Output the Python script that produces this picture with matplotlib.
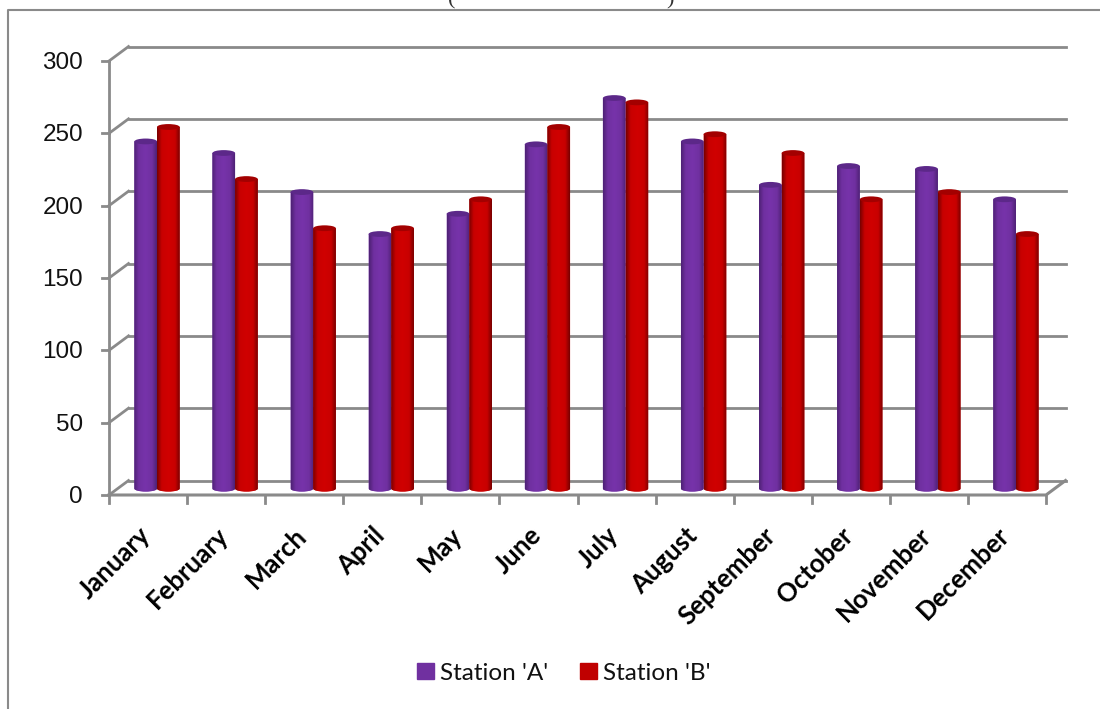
import numpy as np
import matplotlib
matplotlib.use("Agg")
import matplotlib.pyplot as plt
from matplotlib.colors import LinearSegmentedColormap
from matplotlib.patches import Ellipse, Patch, PathPatch
from matplotlib.path import Path

months = ["January", "February", "March", "April", "May", "June", "July",
          "August", "September", "October", "November", "December"]
station_a = [240, 232, 205, 176, 190, 238, 270, 240, 210, 223, 221, 200]
station_b = [250, 214, 180, 180, 200, 250, 267, 245, 232, 200, 205, 176]
y_ticks = [0, 50, 100, 150, 200, 250, 300]
series_names = ["Station 'A'", "Station 'B'"]

GRID = "#8a8a8a"
W, H = 1100, 709
plt.rcParams["font.family"] = ["Lato", "DejaVu Sans"]

fig = plt.figure(figsize=(W / 100, H / 100), dpi=100, facecolor="white")
ax = fig.add_axes([109 / W, 1 - 495 / H, (1046 - 109) / W, (495 - 61) / H])
ax.axis("off")

# Oblique depth of the chart floor, in data units
depth_x, depth_y = 0.25, 10.0
mid_x, mid_y = 0.115, 4.4
bar_w = 0.29
cap_h = 4.0

# Back wall gridlines and the side-wall connectors
for v in y_ticks:
    ax.plot([0, depth_x], [v, v + depth_y],
            color=GRID, lw=2.0, clip_on=False, zorder=1)
    ax.plot([depth_x, 12 + depth_x], [v + depth_y, v + depth_y],
            color=GRID, lw=2.0, clip_on=False, zorder=1)
    ax.plot([-0.09, 0], [v, v], color=GRID, lw=2.0, clip_on=False, zorder=1)

# Front axes, floor edge and category ticks
ax.plot([0, 0], [0, 300], color=GRID, lw=2.0, clip_on=False, zorder=1)
ax.plot([0, 12, 12 + depth_x], [0, 0, depth_y], color=GRID, lw=2.2, clip_on=False, zorder=1)
for i in range(13):
    ax.plot([i, i], [0, -5.5], color=GRID, lw=2.0, clip_on=False, zorder=1)


def shaded(left, width, height, dark, mid, light, top):
    """Draw one cylinder with horizontal shading and an elliptical cap."""
    right = left + width
    cx = left + width / 2
    base, summit = mid_y, mid_y + height
    k = 0.5523
    rx, ry = width / 2, cap_h / 2
    verts = [(left, summit), (left, base),
             (left, base - ry * k), (cx - rx * k, base - ry), (cx, base - ry),
             (cx + rx * k, base - ry), (right, base - ry * k), (right, base),
             (right, summit), (left, summit)]
    codes = [Path.MOVETO, Path.LINETO, Path.CURVE4, Path.CURVE4, Path.CURVE4,
             Path.CURVE4, Path.CURVE4, Path.CURVE4, Path.LINETO, Path.CLOSEPOLY]
    outline = PathPatch(Path(verts, codes), transform=ax.transData,
                        facecolor=mid, edgecolor="none", zorder=3)
    ax.add_patch(outline)
    cmap = LinearSegmentedColormap.from_list(
        "cyl", [(0, dark), (0.2, mid), (0.5, light), (0.8, mid), (1, dark)])
    im = ax.imshow(np.linspace(0, 1, 64).reshape(1, -1), cmap=cmap, aspect="auto",
                   extent=(left, right, base - ry, summit), zorder=3.1,
                   interpolation="bilinear")
    im.set_clip_path(outline)
    ax.add_patch(Ellipse((cx, summit), width, cap_h, facecolor=top,
                         edgecolor="none", zorder=3.2))


for i, (a, b) in enumerate(zip(station_a, station_b)):
    centre = i + 0.5 + mid_x
    shaded(centre - bar_w, bar_w, a, "#4e2175", "#7030a0", "#7733aa", "#5c2889")
    shaded(centre, bar_w, b, "#780000", "#c80000", "#d00000", "#a30000")

ax.set_xlim(0, 12)
ax.set_ylim(0, 300)

# Tick labels
for v in y_ticks:
    ax.annotate(str(v), (0, v), xytext=(-26, -2), textcoords="offset pixels",
                ha="right", va="center", fontsize=17.5, color="#111111",
                family="Liberation Sans", annotation_clip=False)
for i, name in enumerate(months):
    ax.annotate(name, (i + 0.5, 0), xytext=(-10, -28), textcoords="offset pixels",
                ha="right", va="top", rotation=45, rotation_mode="anchor",
                fontsize=18.5, fontweight="bold", color="black",
                annotation_clip=False)

# Legend
fig.legend(handles=[Patch(color="#7030a0", label=series_names[0]),
                    Patch(color="#c00000", label=series_names[1])],
           loc="center", bbox_to_anchor=(564 / W, 1 - 673 / H), ncol=2,
           frameon=False, fontsize=17.5, handlelength=0.68, handleheight=0.68,
           handletextpad=0.28, columnspacing=1.3, labelcolor="#111111")

# Chart-area border, open to the right and below
fig.add_artist(plt.Line2D([8 / W, 8 / W, 1], [0, 1 - 10 / H, 1 - 10 / H],
                          color=GRID, lw=1.5))

# Heading sits above the visible canvas, only the bracket tails show
fig.text(452 / W, 1 - 9 / H, "(", fontsize=16, color="#333333", ha="center", va="bottom",
         family="Liberation Serif")
fig.text(670 / W, 1 - 9 / H, ")", fontsize=16, color="#333333", ha="center", va="bottom",
         family="Liberation Serif")

fig.savefig("out.png", dpi=100, facecolor="white")
